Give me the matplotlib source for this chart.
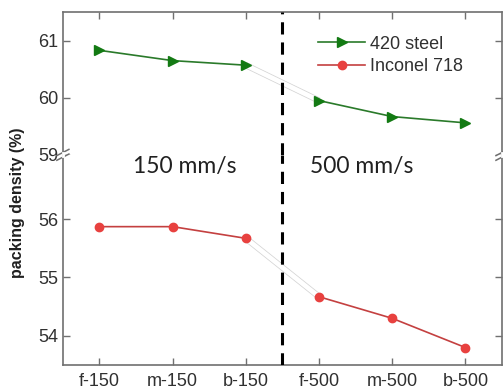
import matplotlib
matplotlib.use("Agg")
import matplotlib.pyplot as plt
from matplotlib.lines import Line2D

labels = ['f-150', 'm-150', 'b-150', 'f-500', 'm-500', 'b-500']
steel = [60.83, 60.65, 60.57, 59.95, 59.67, 59.56]
inconel = [55.87, 55.87, 55.67, 54.67, 54.30, 53.80]

plt.rcParams['font.family'] = ['Liberation Sans', 'DejaVu Sans']
green = '#137a13'
red = '#e8413f'
spine_c = '#707070'
text_c = '#303030'

fig = plt.figure(figsize=(5.03, 3.9), dpi=100)
left, right = 0.125, 0.998
top, brk, bot = 0.969, 0.603, 0.064
ax1 = fig.add_axes([left, brk, right - left, top - brk])
ax2 = fig.add_axes([left, bot, right - left, brk - bot])

x = list(range(len(labels)))

def draw(ax, vals, color, lc, marker, ms):
    # solid segments inside each speed group
    ax.plot(x[:3], vals[:3], color=lc, lw=1.2, marker=marker, ms=ms,
            mfc=color, mec=color, zorder=4)
    ax.plot(x[3:], vals[3:], color=lc, lw=1.2, marker=marker, ms=ms,
            mfc=color, mec=color, zorder=4)
    # faint hollow link across the gap
    ax.plot(x[2:4], vals[2:4], color='#d4d4d4', lw=4.5, zorder=2,
            solid_capstyle='butt')
    ax.plot(x[2:4], vals[2:4], color='white', lw=3.4, zorder=2.1,
            solid_capstyle='butt')

draw(ax1, steel, green, '#2a7a2a', '>', 6.5)
draw(ax2, inconel, red, '#c44040', 'o', 6)

ax1.set_ylim(59, 61.5)
ax2.set_ylim(53.5, 57.1)
ax1.set_yticks([59, 60, 61])
ax2.set_yticks([54, 55, 56])

for ax in (ax1, ax2):
    ax.set_xlim(-0.5, 5.5)
    ax.set_xticks(x)
    ax.axvline(2.5, color='black', lw=2.2, dashes=(4, 2.6), zorder=3)
    for s in ax.spines.values():
        s.set_color(spine_c)
        s.set_linewidth(1.2)
    ax.tick_params(direction='in', length=5, width=1, color=spine_c,
                   labelsize=13, labelcolor=text_c, right=True)

ax1.spines['bottom'].set_visible(False)
ax2.spines['top'].set_visible(False)
ax1.tick_params(axis='x', bottom=False, top=True, labelbottom=False)
ax2.tick_params(axis='x', bottom=True, top=False)
ax2.set_xticklabels(labels)
ax2.tick_params(axis='x', pad=6)

handles = [
    Line2D([], [], color='#2a7a2a', lw=1.2, marker='>', ms=6.5, mfc=green, mec=green),
    Line2D([], [], color='#c44040', lw=1.2, marker='o', ms=6, mfc=red, mec=red),
]
fig.legend(handles, ['420 steel', 'Inconel 718'], loc='upper left',
           bbox_to_anchor=(0.6, 0.95), frameon=False, fontsize=13,
           handlelength=2.6, handletextpad=0.3, labelspacing=0.3,
           labelcolor=text_c)

fig.text(0.035, 0.48, 'packing density (%)', rotation=90, ha='center', va='center',
         fontsize=11.5, fontweight='bold', color='#202020')

fig.text(0.368, 0.572, '150 mm/s', ha='center', va='center', fontsize=16.5,
         family=['Lato', 'DejaVu Sans'], color='#202020')
fig.text(0.72, 0.572, '500 mm/s', ha='center', va='center', fontsize=16.5,
         family=['Lato', 'DejaVu Sans'], color='#202020')

# break marks on both spines
for xs in (left, right):
    for dy in (-0.006, 0.006):
        fig.add_artist(Line2D([xs - 0.012, xs + 0.012], [brk + dy - 0.008, brk + dy + 0.008],
                              color=spine_c, lw=1.1, transform=fig.transFigure))
    fig.add_artist(Line2D([xs, xs], [brk - 0.004, brk + 0.004], color='white',
                          lw=2, transform=fig.transFigure))

fig.savefig('out.png', dpi=100)
